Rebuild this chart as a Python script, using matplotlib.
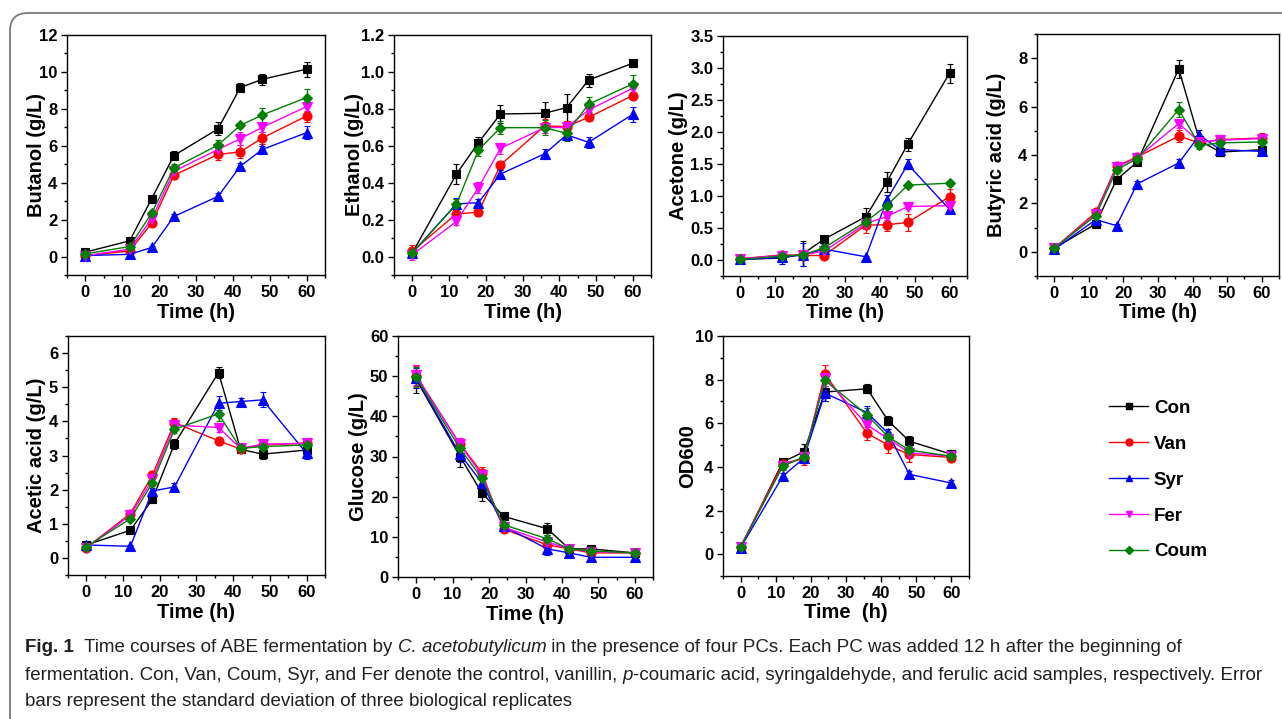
import matplotlib
matplotlib.use("Agg")
import matplotlib.pyplot as plt
from matplotlib.patches import FancyBboxPatch
from matplotlib.ticker import MultipleLocator, FormatStrFormatter
from matplotlib.lines import Line2D

# ---------------- data ----------------
time_h = [0, 12, 18, 24, 36, 42, 48, 60]
series_names = ["Con", "Van", "Syr", "Fer", "Coum"]

butanol = {
    "Con":  [0.24, 0.85, 3.14, 5.47, 6.92, 9.15, 9.60, 10.15],
    "Van":  [0.05, 0.30, 1.81, 4.40, 5.53, 5.67, 6.42, 7.61],
    "Syr":  [0.05, 0.12, 0.49, 2.17, 3.26, 4.89, 5.80, 6.71],
    "Fer":  [0.05, 0.40, 2.05, 4.62, 5.80, 6.38, 7.00, 8.12],
    "Coum": [0.15, 0.54, 2.36, 4.80, 6.04, 7.10, 7.67, 8.61],
}
butanol_err = {
    "Con":  [0.10, 0.10, 0.15, 0.25, 0.35, 0.25, 0.30, 0.40],
    "Van":  [0.05, 0.10, 0.15, 0.20, 0.30, 0.35, 0.30, 0.30],
    "Syr":  [0.05, 0.05, 0.10, 0.15, 0.20, 0.20, 0.20, 0.35],
    "Fer":  [0.05, 0.10, 0.15, 0.20, 0.30, 0.35, 0.25, 0.30],
    "Coum": [0.05, 0.10, 0.15, 0.20, 0.25, 0.15, 0.40, 0.45],
}

ethanol = {
    "Con":  [0.02, 0.446, 0.617, 0.772, 0.776, 0.807, 0.956, 1.047],
    "Van":  [0.03, 0.231, 0.240, 0.496, 0.707, 0.704, 0.754, 0.872],
    "Syr":  [0.02, 0.285, 0.292, 0.447, 0.556, 0.659, 0.619, 0.770],
    "Fer":  [0.01, 0.190, 0.373, 0.586, 0.698, 0.700, 0.794, 0.911],
    "Coum": [0.02, 0.283, 0.577, 0.698, 0.698, 0.668, 0.825, 0.935],
}
ethanol_err = {
    "Con":  [0.02, 0.055, 0.03, 0.05, 0.06, 0.075, 0.035, 0.02],
    "Van":  [0.03, 0.02, 0.02, 0.02, 0.04, 0.03, 0.02, 0.02],
    "Syr":  [0.02, 0.03, 0.02, 0.02, 0.025, 0.02, 0.03, 0.04],
    "Fer":  [0.03, 0.02, 0.03, 0.03, 0.03, 0.03, 0.02, 0.03],
    "Coum": [0.02, 0.03, 0.03, 0.035, 0.04, 0.04, 0.04, 0.05],
}

acetone = {
    "Con":  [0.01, 0.03, 0.10, 0.325, 0.677, 1.22, 1.81, 2.92],
    "Van":  [0.02, 0.08, 0.07, 0.07, 0.546, 0.55, 0.588, 0.99],
    "Syr":  [0.01, 0.04, 0.08, 0.17, 0.05, 0.94, 1.495, 0.79],
    "Fer":  [0.02, 0.07, 0.08, 0.14, 0.57, 0.68, 0.835, 0.85],
    "Coum": [0.01, 0.06, 0.08, 0.19, 0.60, 0.85, 1.17, 1.20],
}
acetone_err = {
    "Con":  [0.02, 0.02, 0.20, 0.03, 0.13, 0.15, 0.10, 0.15],
    "Van":  [0.02, 0.03, 0.03, 0.03, 0.12, 0.10, 0.13, 0.12],
    "Syr":  [0.02, 0.10, 0.18, 0.08, 0.02, 0.08, 0.08, 0.05],
    "Fer":  [0.02, 0.03, 0.03, 0.03, 0.08, 0.06, 0.04, 0.05],
    "Coum": [0.02, 0.03, 0.03, 0.04, 0.08, 0.05, 0.04, 0.04],
}

butyric = {
    "Con":  [0.15, 1.15, 2.98, 3.71, 7.56, 4.60, 4.12, 4.22],
    "Van":  [0.15, 1.63, 3.54, 3.92, 4.78, 4.50, 4.64, 4.70],
    "Syr":  [0.10, 1.33, 1.08, 2.81, 3.67, 4.82, 4.22, 4.15],
    "Fer":  [0.15, 1.55, 3.50, 3.89, 5.30, 4.54, 4.61, 4.68],
    "Coum": [0.15, 1.50, 3.39, 3.85, 5.88, 4.40, 4.50, 4.54],
}
butyric_err = {
    "Con":  [0.05, 0.05, 0.12, 0.10, 0.38, 0.15, 0.18, 0.15],
    "Van":  [0.05, 0.08, 0.15, 0.10, 0.25, 0.15, 0.20, 0.20],
    "Syr":  [0.05, 0.05, 0.08, 0.12, 0.18, 0.20, 0.15, 0.15],
    "Fer":  [0.05, 0.08, 0.12, 0.10, 0.20, 0.15, 0.15, 0.15],
    "Coum": [0.05, 0.08, 0.12, 0.10, 0.30, 0.15, 0.15, 0.15],
}

acetic = {
    "Con":  [0.38, 0.81, 1.72, 3.34, 5.43, 3.18, 3.04, 3.16],
    "Van":  [0.30, 1.30, 2.43, 3.96, 3.43, 3.19, 3.31, 3.36],
    "Syr":  [0.38, 0.34, 1.96, 2.08, 4.53, 4.58, 4.63, 3.06],
    "Fer":  [0.30, 1.25, 2.30, 3.89, 3.82, 3.21, 3.33, 3.36],
    "Coum": [0.33, 1.15, 2.20, 3.77, 4.22, 3.21, 3.26, 3.31],
}
acetic_err = {
    "Con":  [0.05, 0.05, 0.08, 0.15, 0.15, 0.12, 0.15, 0.12],
    "Van":  [0.05, 0.08, 0.12, 0.15, 0.12, 0.10, 0.15, 0.15],
    "Syr":  [0.05, 0.05, 0.10, 0.12, 0.20, 0.10, 0.22, 0.15],
    "Fer":  [0.05, 0.08, 0.10, 0.12, 0.12, 0.10, 0.12, 0.12],
    "Coum": [0.05, 0.08, 0.10, 0.12, 0.20, 0.10, 0.12, 0.12],
}

glucose = {
    "Con":  [49.2, 30.0, 21.0, 15.1, 12.0, 7.0, 7.0, 6.0],
    "Van":  [50.0, 33.1, 26.0, 11.9, 8.0, 7.0, 6.0, 6.0],
    "Syr":  [49.5, 30.6, 23.5, 12.6, 7.0, 6.0, 4.9, 4.9],
    "Fer":  [50.2, 33.0, 25.4, 12.4, 8.7, 7.0, 6.3, 6.0],
    "Coum": [49.7, 32.0, 24.6, 13.0, 9.5, 7.0, 6.5, 6.0],
}
glucose_err = {
    "Con":  [3.5, 2.5, 2.0, 0.5, 1.5, 0.5, 0.5, 0.5],
    "Van":  [2.5, 1.5, 1.3, 0.5, 1.0, 0.5, 0.5, 0.5],
    "Syr":  [2.5, 2.0, 1.5, 0.5, 1.5, 0.5, 0.5, 0.5],
    "Fer":  [2.5, 1.5, 1.3, 0.5, 1.0, 0.5, 0.5, 0.5],
    "Coum": [2.5, 2.0, 1.5, 0.5, 1.0, 0.5, 0.5, 0.5],
}

od600 = {
    "Con":  [0.30, 4.23, 4.69, 7.43, 7.58, 6.12, 5.18, 4.58],
    "Van":  [0.35, 4.15, 4.38, 8.26, 5.54, 5.00, 4.57, 4.43],
    "Syr":  [0.30, 3.57, 4.40, 7.38, 6.49, 5.54, 3.66, 3.26],
    "Fer":  [0.35, 4.05, 4.45, 8.08, 5.92, 5.30, 4.65, 4.49],
    "Coum": [0.32, 4.03, 4.46, 7.97, 6.38, 5.38, 4.77, 4.49],
}
od600_err = {
    "Con":  [0.10, 0.10, 0.35, 0.40, 0.20, 0.20, 0.25, 0.20],
    "Van":  [0.10, 0.15, 0.30, 0.40, 0.30, 0.35, 0.35, 0.20],
    "Syr":  [0.10, 0.15, 0.20, 0.35, 0.30, 0.20, 0.15, 0.15],
    "Fer":  [0.10, 0.15, 0.20, 0.35, 0.30, 0.20, 0.20, 0.20],
    "Coum": [0.10, 0.15, 0.20, 0.35, 0.30, 0.20, 0.20, 0.20],
}

# ---------------- style ----------------
W, H = 1282, 719
DPI = 100
FONT = ["Liberation Sans", "DejaVu Sans"]
plt.rcParams["font.family"] = FONT

colors = {"Con": "#000000", "Van": "#FF0000", "Syr": "#0000FF",
          "Fer": "#FF00FF", "Coum": "#008000"}
markers = {"Con": "s", "Van": "o", "Syr": "^", "Fer": "v", "Coum": "D"}
msizes = {"Con": 6, "Van": 6.5, "Syr": 6.5, "Fer": 6.5, "Coum": 5.5}

fig = plt.figure(figsize=(W / DPI, H / DPI), dpi=DPI)

# rounded frame
frame = FancyBboxPatch((10 / W, -20 / H), (W + 30) / W, (H - 13 + 20) / H,
                       boxstyle="round,pad=0,rounding_size=0.014",
                       transform=fig.transFigure, fill=False,
                       edgecolor="#7a7a7a", linewidth=1.3,
                       mutation_aspect=W / H, clip_on=False)
fig.patches.append(frame)


def px_axes(x0, x1, y0, y1):
    return fig.add_axes([x0 / W, (H - y1) / H, (x1 - x0) / W, (y1 - y0) / H])


panels = [
    # data, err, ylabel, xlabel, ylim, major, minor, fmt, rect, ylabel_x_px, xlabel_y_px
    (butanol, butanol_err, "Butanol (g/L)", "Time (h)", (-1, 12), 2, 1, "%d", (67, 325, 35, 275), 37, 313),
    (ethanol, ethanol_err, "Ethanol (g/L)", "Time (h)", (-0.1, 1.2), 0.2, 0.1, "%.1f", (394, 651, 35, 275), 354, 313),
    (acetone, acetone_err, "Acetone (g/L)", "Time (h)", (-0.25, 3.5), 0.5, 0.25, "%.1f", (723, 967, 36, 276), 678, 313),
    (butyric, butyric_err, "Butyric acid (g/L)", "Time (h)", (-1, 9), 2, 1, "%d", (1037, 1279, 34, 276), 996, 313),
    (acetic, acetic_err, "Acetic acid (g/L)", "Time (h)", (-0.5, 6.5), 1, 0.5, "%d", (68, 325, 336, 575), 37, 612),
    (glucose, glucose_err, "Glucose (g/L)", "Time (h)", (0, 60), 10, 5, "%d", (398, 653, 336, 577), 358, 614),
    (od600, od600_err, "OD600", "Time  (h)", (-1, 10), 2, 1, "%d", (723, 969, 336, 576), 688, 612),
]

for data, err, ylab, xlab, ylim, major, minor, fmt, rect, ylx, xly in panels:
    ax = px_axes(*rect)
    x0, x1, y0, y1 = rect
    for name in series_names:
        c = colors[name]
        ax.errorbar(time_h, data[name], yerr=err[name], color=c,
                    marker=markers[name], markersize=msizes[name],
                    linewidth=1.0, elinewidth=1.0, capsize=2.5,
                    capthick=1.0, markeredgewidth=0.8,
                    markeredgecolor=c, markerfacecolor=c)
    ax.set_xlim(-5, 65)
    ax.set_ylim(*ylim)
    ax.xaxis.set_major_locator(MultipleLocator(10))
    ax.xaxis.set_minor_locator(MultipleLocator(5))
    ax.yaxis.set_major_locator(MultipleLocator(major))
    ax.yaxis.set_minor_locator(MultipleLocator(minor))
    ax.yaxis.set_major_formatter(FormatStrFormatter(fmt))
    ax.tick_params(which="major", direction="out", length=4, width=1,
                   labelsize=12, pad=3)
    ax.tick_params(which="minor", direction="out", length=2.5, width=1)
    for lab in ax.get_xticklabels() + ax.get_yticklabels():
        lab.set_fontweight("bold")
    for sp in ax.spines.values():
        sp.set_linewidth(1.0)
    ax.set_ylabel(ylab, fontsize=14.5, fontweight="bold", va="center")
    ax.set_xlabel(xlab, fontsize=14.5, fontweight="bold", va="center")
    ax.yaxis.set_label_coords((ylx - x0) / (x1 - x0), 0.5)
    ax.xaxis.set_label_coords(0.5, -(xly - y1) / (y1 - y0))

# legend
handles = []
for name in series_names:
    handles.append(Line2D([], [], color=colors[name], marker=markers[name],
                          markersize=msizes[name] - 1.5, linewidth=1.0,
                          markerfacecolor=colors[name]))
fig.legend(handles, series_names, loc="upper left",
           bbox_to_anchor=(1092 / W, 1 - 383 / H), frameon=False,
           prop={"weight": "bold", "size": 13.5}, handlelength=2.1,
           labelspacing=1.0, handletextpad=0.3)

# caption
CAP_FONT = ["Liberation Sans Narrow", "Liberation Sans", "DejaVu Sans"]
cap_color = "#231f20"
renderer = fig.canvas.get_renderer()

line1 = [("Fig. 1", "bold", "normal"),
         ("  Time courses of ABE fermentation by ", "normal", "normal"),
         ("C. acetobutylicum", "normal", "italic"),
         (" in the presence of four PCs. Each PC was added 12 h after the beginning of", "normal", "normal")]
line2 = [("fermentation. Con, Van, Coum, Syr, and Fer denote the control, vanillin, ", "normal", "normal"),
         ("p", "normal", "italic"),
         ("-coumaric acid, syringaldehyde, and ferulic acid samples, respectively. Error", "normal", "normal")]
line3 = [("bars represent the standard deviation of three biological replicates", "normal", "normal")]


def draw_line(segments, y_px, size, x0=25, draw=True):
    x = x0
    arts = []
    for txt, wt, st in segments:
        t = fig.text(x / W, 1 - y_px / H, txt, fontsize=size, fontweight=wt,
                     fontstyle=st, family=CAP_FONT, color=cap_color,
                     va="center", ha="left")
        bb = t.get_window_extent(renderer)
        x = x + bb.width
        arts.append(t)
    if not draw:
        for a in arts:
            a.remove()
    return x


# fit caption size so that line 2 spans to ~1268 px
size = 12.0
end = draw_line(line2, 675, size, draw=False)
size = size * (1268 - 25) / (end - 25)
draw_line(line1, 648, size)
draw_line(line2, 675, size)
draw_line(line3, 702, size)

fig.savefig("out.png", dpi=DPI)
